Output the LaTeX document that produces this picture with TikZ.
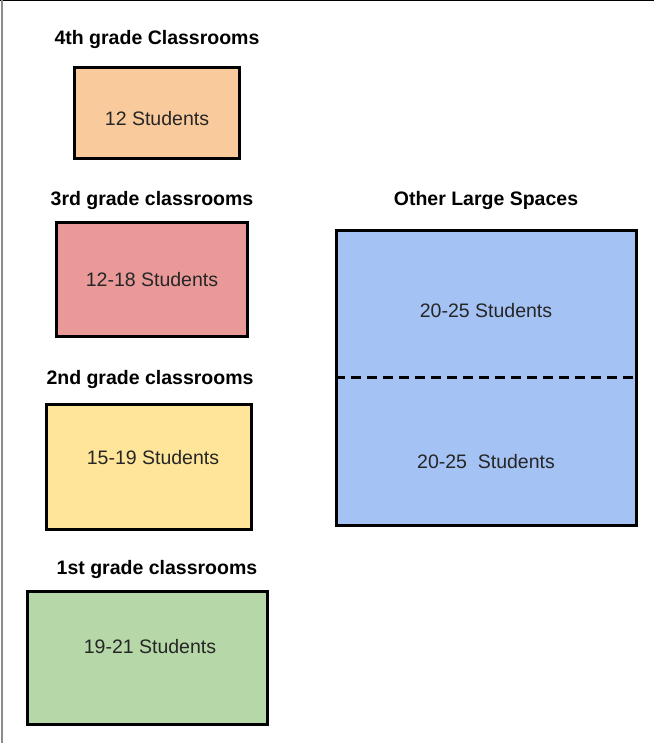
\documentclass[tikz,border=0pt]{standalone}
\usepackage{fontspec}
\setmainfont{Liberation Sans}

\definecolor{roomorange}{HTML}{F9CB9C}
\definecolor{roomred}{HTML}{EA9999}
\definecolor{roomyellow}{HTML}{FFE599}
\definecolor{roomgreen}{HTML}{B6D7A8}
\definecolor{roomblue}{HTML}{A4C2F4}

\begin{document}
\begin{tikzpicture}[x=1pt,y=-1pt,
	]

	\tikzset{room/.style={
				draw=black,
				line width=3pt,
				inner sep=0pt}
	}
	\tikzset{title/.style={
				inner sep=0pt,
				font=\fontsize{19.5}{23}\selectfont\bfseries}
	}
	\tikzset{count/.style={
				inner sep=0pt,
				text=black!85,
				font=\fontsize{19.5}{23}\selectfont}
	}

	\useasboundingbox (0,0) rectangle (654,743);
	\draw[black,line width=1.5pt] (0,0.75) -- (654,0.75);
	\draw[black!45,line width=1.5pt] (2,0) -- (2,743);

	\node[title] (t4) at (157,40) {4th grade Classrooms};
	\node[room,fill=roomorange,minimum width=165,minimum height=91] (r4) at (157,113) {};
	\node[count] (c4) at (157,119) {12 Students};

	\node[title] (t3) at (152,201) {3rd grade classrooms};
	\node[room,fill=roomred,minimum width=191,minimum height=114] (r3) at (152,279.5) {};
	\node[count] (c3) at (152,280) {12-18 Students};

	\node[title] (t2) at (150,379) {2nd grade classrooms};
	\node[room,fill=roomyellow,minimum width=205,minimum height=125] (r2) at (149,467) {};
	\node[count] (c2) at (153,458) {15-19 Students};

	\node[title] (t1) at (157,569) {1st grade classrooms};
	\node[room,fill=roomgreen,minimum width=240,minimum height=133] (r1) at (147.5,658) {};
	\node[count] (c1) at (150,647) {19-21 Students};

	\node[title] (tl) at (486,201) {Other Large Spaces};
	\node[room,fill=roomblue,minimum width=300,minimum height=295] (large) at (486,377.5) {};
	\draw[line width=3pt,dash pattern=on 10pt off 6pt] (large.west) -- (large.east);
	\node[count] (ca) at (486,311) {20-25 Students};
	\node[count] (cb) at (486,462) {20-25\ \ Students};

\end{tikzpicture}
\end{document}
